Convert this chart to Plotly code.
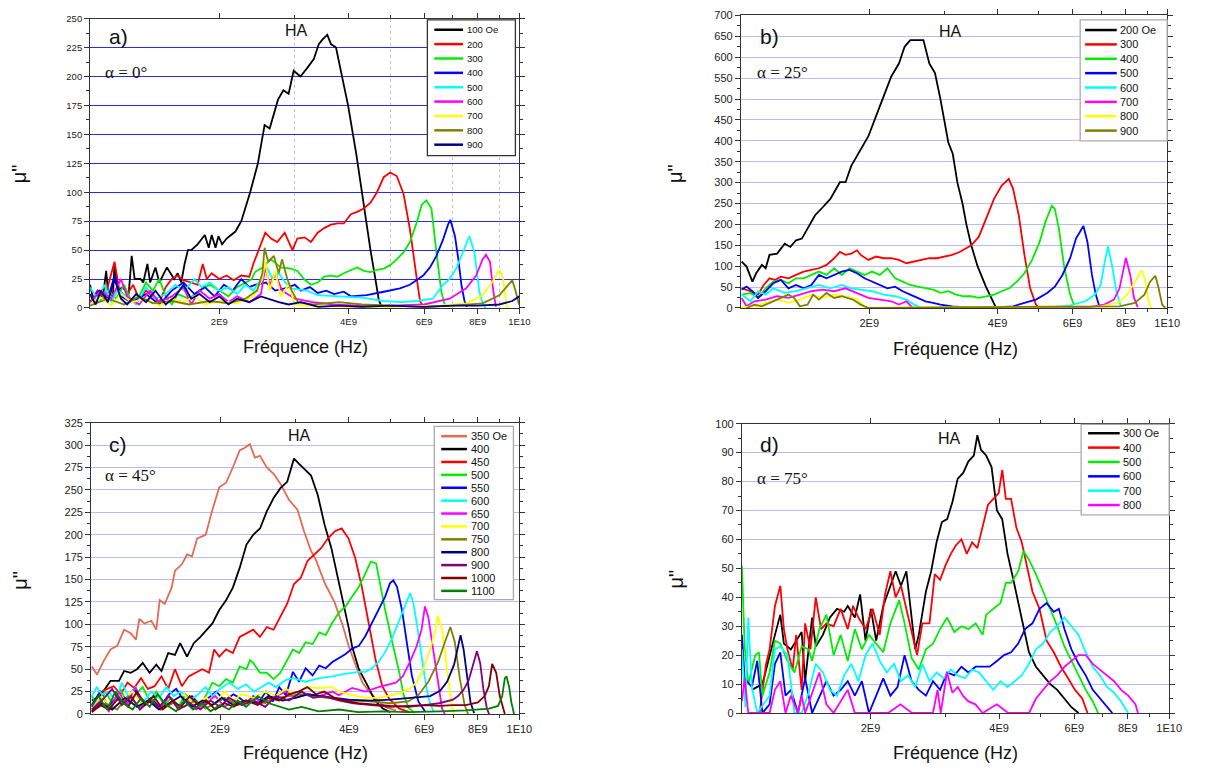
import plotly.graph_objects as go

W, H = 1206, 771
# the page body keeps its default 8px margin, so the figure is drawn 16px smaller
PAD = 8
FIG_W, FIG_H = W - 2 * PAD, H - 2 * PAD

X_TICKVALS = [2e9, 4e9, 6e9, 8e9, 1e10]
X_TICKTEXT = ["2E9", "4E9", "6E9", "8E9", "1E10"]
X_MINOR = [3e9, 5e9, 7e9, 9e9]

# every curve: (frequency in GHz, mu'')

# ---------------- a) alpha = 0 deg ----------------
a_100 = [(1.00, 20), (1.02, 5), (1.05, 12), (1.07, 8), (1.09, 32), (1.10, 15), (1.13, 10), (1.14, 38), (1.16, 15),
         (1.19, 18), (1.23, 12), (1.25, 45), (1.27, 25), (1.31, 25), (1.33, 22), (1.36, 38), (1.38, 22), (1.42, 35),
         (1.45, 22), (1.51, 35), (1.57, 25), (1.60, 30), (1.63, 22), (1.66, 38), (1.69, 50), (1.72, 50), (1.78, 55),
         (1.85, 63), (1.89, 52), (1.92, 63), (1.96, 52), (1.99, 62), (2.03, 55), (2.08, 60), (2.18, 66), (2.25, 75),
         (2.36, 100), (2.46, 125), (2.50, 140), (2.55, 158), (2.62, 155), (2.67, 165), (2.74, 180), (2.82, 188),
         (2.90, 185), (2.98, 205), (3.09, 200), (3.20, 207), (3.32, 215), (3.41, 228), (3.48, 232), (3.57, 236),
         (3.64, 228), (3.74, 225), (3.84, 205), (3.99, 175), (4.17, 133), (4.30, 100), (4.39, 75), (4.50, 50),
         (4.62, 25), (4.70, 8), (4.76, 2)]
a_200 = [(1.00, 5), (1.04, 15), (1.08, 8), (1.11, 25), (1.14, 40), (1.17, 15), (1.21, 10), (1.26, 20), (1.30, 8),
         (1.35, 15), (1.40, 10), (1.45, 5), (1.50, 18), (1.55, 25), (1.60, 28), (1.65, 24), (1.72, 22), (1.78, 20),
         (1.83, 38), (1.87, 25), (1.92, 30), (2.00, 25), (2.08, 28), (2.16, 24), (2.25, 28), (2.35, 27), (2.40, 38),
         (2.47, 50), (2.52, 58), (2.56, 65), (2.64, 60), (2.73, 57), (2.84, 65), (2.96, 50), (3.04, 60), (3.16, 61),
         (3.27, 57), (3.39, 65), (3.51, 69), (3.64, 72), (3.77, 73), (3.90, 73), (4.05, 81), (4.19, 83), (4.34, 86),
         (4.50, 91), (4.66, 100), (4.83, 113), (5.00, 117), (5.18, 114), (5.37, 99), (5.56, 68), (5.77, 25),
         (5.87, 6), (5.97, 1)]
a_300 = [(1.00, 10), (1.05, 5), (1.10, 15), (1.15, 8), (1.20, 20), (1.25, 5), (1.30, 10), (1.35, 22), (1.40, 15),
         (1.45, 25), (1.50, 10), (1.55, 3), (1.60, 12), (1.70, 8), (1.80, 15), (1.90, 20), (2.00, 15), (2.10, 10),
         (2.20, 18), (2.30, 22), (2.38, 25), (2.42, 31), (2.50, 34), (2.64, 42), (2.78, 35), (2.94, 34), (3.04, 32),
         (3.15, 25), (3.27, 20), (3.39, 22), (3.51, 27), (3.64, 28), (3.77, 27), (3.90, 30), (4.05, 33), (4.19, 35),
         (4.34, 32), (4.50, 31), (4.66, 33), (4.83, 34), (5.00, 37), (5.18, 42), (5.37, 48), (5.56, 57), (5.77, 74),
         (5.92, 89), (6.07, 93), (6.24, 86), (6.41, 48), (6.58, 14), (6.70, 3)]
a_400 = [(1.00, 5), (1.05, 15), (1.10, 8), (1.14, 28), (1.18, 10), (1.25, 5), (1.35, 12), (1.45, 3), (1.55, 15),
         (1.65, 22), (1.75, 12), (1.85, 18), (1.95, 10), (2.05, 20), (2.15, 15), (2.25, 25), (2.35, 18), (2.42, 20),
         (2.57, 22), (2.70, 15), (2.84, 17), (3.00, 20), (3.10, 15), (3.25, 18), (3.39, 13), (3.55, 15), (3.70, 12),
         (3.90, 14), (4.05, 10), (4.41, 11), (4.83, 14), (5.27, 17), (5.56, 20), (5.77, 24), (5.97, 28), (6.19, 35),
         (6.41, 45), (6.64, 59), (6.82, 72), (6.91, 76), (7.08, 62), (7.21, 42), (7.33, 20), (7.45, 6), (7.55, 1)]
a_500 = [(1.00, 18), (1.04, 8), (1.08, 20), (1.12, 5), (1.16, 15), (1.22, 10), (1.28, 3), (1.35, 18), (1.42, 8),
         (1.50, 12), (1.58, 20), (1.66, 15), (1.75, 25), (1.82, 18), (1.90, 22), (2.00, 15), (2.10, 18), (2.20, 12),
         (2.30, 20), (2.40, 15), (2.50, 25), (2.58, 35), (2.66, 25), (2.75, 30), (2.85, 22), (2.94, 17), (3.20, 15),
         (3.39, 11), (3.80, 10), (4.30, 9), (4.83, 6), (5.30, 5), (5.77, 6), (6.29, 8), (6.64, 20), (6.88, 25),
         (7.13, 34), (7.39, 48), (7.65, 62), (7.86, 48), (8.07, 14), (8.21, 4), (8.35, 0)]
a_600 = [(1.00, 5), (1.06, 15), (1.12, 8), (1.18, 25), (1.22, 10), (1.30, 3), (1.38, 15), (1.45, 5), (1.55, 10),
         (1.65, 18), (1.72, 3), (1.80, 15), (1.90, 8), (2.00, 12), (2.10, 5), (2.20, 10), (2.35, 5), (2.50, 12),
         (2.56, 35), (2.62, 20), (2.70, 30), (2.80, 15), (3.00, 8), (3.30, 5), (3.70, 3), (4.20, 2), (5.00, 2),
         (6.00, 3), (6.88, 8), (7.52, 17), (7.93, 28), (8.21, 42), (8.36, 46), (8.54, 40), (8.70, 14), (8.82, 1)]
a_700 = [(1.00, 3), (1.05, 10), (1.12, 2), (1.18, 12), (1.25, 5), (1.35, 8), (1.45, 2), (1.55, 8), (1.65, 5),
         (1.75, 10), (1.85, 3), (2.00, 6), (2.20, 4), (2.40, 10), (2.52, 25), (2.56, 40), (2.62, 15), (2.70, 32),
         (2.78, 10), (2.90, 20), (3.00, 3), (3.20, 2), (4.00, 1), (5.00, 1), (6.50, 2), (7.52, 4), (8.21, 11),
         (8.67, 23), (8.98, 33), (9.17, 25), (9.33, 3), (9.40, 0)]
a_800 = [(1.00, 2), (1.10, 8), (1.20, 3), (1.30, 10), (1.40, 4), (1.55, 6), (1.70, 3), (1.90, 6), (2.10, 4),
         (2.30, 8), (2.45, 15), (2.52, 30), (2.55, 52), (2.60, 40), (2.68, 45), (2.75, 30), (2.80, 42), (2.88, 25),
         (2.95, 15), (3.05, 5), (3.30, 3), (3.80, 5), (4.30, 3), (5.00, 2), (6.00, 1), (7.00, 2), (8.21, 4),
         (8.98, 11), (9.46, 20), (9.63, 24), (9.81, 14), (9.98, 3)]
a_900 = [(1.00, 12), (1.03, 3), (1.06, 15), (1.10, 5), (1.14, 25), (1.18, 8), (1.22, 3), (1.28, 12), (1.35, 5),
         (1.42, 15), (1.50, 3), (1.58, 10), (1.65, 20), (1.72, 8), (1.80, 12), (1.90, 5), (2.00, 10), (2.10, 3),
         (2.20, 8), (2.35, 5), (2.50, 10), (2.60, 8), (2.75, 5), (2.90, 3), (3.10, 5), (3.40, 1), (3.80, 2),
         (4.30, 1), (5.00, 2), (6.00, 1), (7.00, 2), (8.00, 2), (8.98, 3), (9.63, 6), (10.0, 10)]
A_LABELS = ["100 Oe", "200", "300", "400", "500", "600", "700", "800", "900"]
A_COLORS = ["#000000", "#ff0000", "#00ee00", "#0000ff", "#00ffff", "#ff00ff", "#ffff00", "#808000", "#000080"]

# ---------------- b) alpha = 25 deg ----------------
b_200 = [(1.004, 111), (1.031, 99), (1.064, 63), (1.086, 83), (1.12, 103), (1.143, 95), (1.167, 127), (1.216, 130),
         (1.267, 154), (1.306, 146), (1.347, 162), (1.39, 166), (1.433, 190), (1.493, 222), (1.556, 241),
         (1.621, 261), (1.707, 301), (1.76, 301), (1.815, 340), (1.872, 364), (1.91, 380), (1.991, 411),
         (2.075, 459), (2.162, 506), (2.253, 554), (2.348, 585), (2.421, 625), (2.496, 641), (2.60, 641),
         (2.68, 641), (2.767, 585), (2.853, 562), (2.94, 498), (3.066, 396), (3.14, 369), (3.22, 300), (3.31, 250),
         (3.38, 200), (3.47, 150), (3.59, 100), (3.76, 50), (3.88, 20), (3.97, 0)]
b_300 = [(1.004, 47), (1.053, 40), (1.097, 32), (1.131, 55), (1.167, 71), (1.203, 67), (1.241, 75), (1.293, 71),
         (1.347, 79), (1.404, 87), (1.463, 91), (1.524, 95), (1.588, 103), (1.655, 119), (1.707, 134), (1.76, 127),
         (1.815, 130), (1.872, 138), (1.91, 127), (1.991, 115), (2.075, 123), (2.162, 119), (2.253, 119),
         (2.348, 115), (2.445, 107), (2.548, 111), (2.655, 115), (2.767, 119), (2.884, 119), (3.005, 123),
         (3.13, 127), (3.26, 134), (3.364, 142), (3.47, 150), (3.614, 170), (3.767, 214), (3.925, 261), (4.09, 293),
         (4.25, 309), (4.35, 285), (4.485, 222), (4.625, 127), (4.77, 47), (4.92, 8), (5.02, 0)]
b_400 = [(1.004, 32), (1.053, 36), (1.097, 24), (1.143, 47), (1.191, 63), (1.241, 67), (1.293, 59), (1.347, 71),
         (1.404, 71), (1.463, 79), (1.524, 87), (1.588, 79), (1.655, 95), (1.724, 79), (1.797, 95), (1.872, 87),
         (1.95, 79), (2.03, 87), (2.117, 79), (2.207, 95), (2.30, 71), (2.396, 63), (2.496, 55), (2.60, 51),
         (2.71, 47), (2.824, 44), (2.94, 36), (3.066, 40), (3.195, 32), (3.33, 28), (3.47, 28), (3.614, 24),
         (3.767, 28), (3.925, 32), (4.09, 40), (4.26, 47), (4.44, 63), (4.625, 83), (4.82, 115), (5.02, 158),
         (5.18, 206), (5.36, 245), (5.45, 237), (5.57, 190), (5.74, 95), (5.92, 32), (6.04, 8)]
b_500 = [(1.004, 44), (1.031, 51), (1.064, 40), (1.097, 24), (1.143, 40), (1.191, 59), (1.241, 67), (1.293, 47),
         (1.347, 55), (1.404, 47), (1.463, 55), (1.524, 79), (1.588, 71), (1.655, 79), (1.724, 87), (1.797, 91),
         (1.872, 83), (1.95, 71), (2.03, 63), (2.117, 55), (2.207, 47), (2.30, 51), (2.396, 40), (2.496, 32),
         (2.60, 24), (2.71, 16), (2.824, 12), (2.94, 8), (3.13, 4), (3.33, 2), (3.54, 0), (4.01, 2), (4.35, 4),
         (4.625, 12), (4.92, 20), (5.23, 36), (5.45, 51), (5.68, 79), (5.92, 119), (6.11, 166), (6.36, 196),
         (6.50, 158), (6.66, 79), (6.80, 32), (6.93, 4)]
b_600 = [(1.004, 32), (1.053, 16), (1.097, 40), (1.143, 32), (1.191, 47), (1.267, 36), (1.347, 40), (1.433, 47),
         (1.524, 55), (1.621, 47), (1.724, 55), (1.815, 47), (1.93, 44), (2.03, 40), (2.162, 32), (2.30, 28),
         (2.445, 20), (2.548, 8), (2.655, 0), (5.34, 2), (5.92, 6), (6.43, 16), (6.77, 32), (6.98, 55), (7.14, 111),
         (7.26, 147), (7.42, 103), (7.60, 40), (7.78, 4)]
b_700 = [(1.004, 24), (1.031, 4), (1.075, 16), (1.143, 20), (1.216, 28), (1.293, 24), (1.375, 32), (1.463, 40),
         (1.556, 44), (1.655, 40), (1.76, 47), (1.872, 36), (1.991, 24), (2.117, 20), (2.253, 16), (2.348, 8),
         (2.445, 16), (2.53, 0), (6.56, 2), (7.12, 8), (7.50, 20), (7.73, 47), (7.89, 95), (8.00, 120), (8.19, 79),
         (8.36, 24), (8.53, 2)]
b_800 = [(1.004, 2), (1.075, 4), (1.143, 12), (1.216, 20), (1.293, 12), (1.375, 20), (1.463, 32), (1.556, 24),
         (1.655, 32), (1.76, 28), (1.872, 20), (1.95, 4), (2.00, 0), (6.98, 4), (7.65, 12), (8.06, 32), (8.40, 63),
         (8.71, 90), (8.86, 71), (9.04, 16), (9.18, 0)]
b_900 = [(1.031, 0), (1.075, 8), (1.12, 4), (1.191, 16), (1.241, 24), (1.293, 32), (1.333, 24), (1.375, 4),
         (1.433, 8), (1.477, 32), (1.524, 20), (1.588, 36), (1.655, 24), (1.724, 28), (1.83, 20), (1.91, 8),
         (1.99, 0), (7.73, 4), (8.40, 12), (8.84, 32), (9.12, 63), (9.38, 77), (9.55, 47), (9.73, 8), (9.90, 0)]
B_LABELS = ["200 Oe", "300", "400", "500", "600", "700", "800", "900"]
B_COLORS = ["#000000", "#ff0000", "#00ee00", "#0000ff", "#00ffff", "#ff00ff", "#ffff00", "#808000"]

# ---------------- c) alpha = 45 deg ----------------
c_350 = [(1.004, 53), (1.032, 44), (1.07, 59), (1.11, 72), (1.151, 76), (1.194, 94), (1.238, 90), (1.273, 83),
         (1.296, 106), (1.332, 101), (1.382, 104), (1.42, 94), (1.446, 127), (1.486, 123), (1.542, 141),
         (1.57, 160), (1.629, 167), (1.675, 178), (1.721, 176), (1.769, 196), (1.852, 200), (1.92, 228),
         (1.992, 253), (2.066, 258), (2.143, 275), (2.223, 294), (2.285, 297), (2.348, 301), (2.413, 286),
         (2.48, 288), (2.572, 275), (2.668, 268), (2.767, 257), (2.897, 239), (3.033, 228), (3.146, 203),
         (3.263, 182), (3.35, 172), (3.52, 145), (3.70, 125), (3.86, 100), (4.00, 75), (4.18, 50), (4.30, 35),
         (4.46, 25), (4.69, 14), (4.90, 7), (5.15, 4)]
c_400 = [(1.004, 15), (1.05, 20), (1.11, 37), (1.162, 37), (1.194, 48), (1.238, 46), (1.28, 50), (1.32, 57),
         (1.37, 46), (1.42, 55), (1.46, 48), (1.514, 68), (1.57, 66), (1.614, 79), (1.675, 64), (1.737, 79),
         (1.80, 86), (1.868, 94), (1.92, 101), (1.992, 116), (2.066, 127), (2.143, 141), (2.223, 163), (2.306, 189),
         (2.391, 200), (2.48, 207), (2.572, 226), (2.668, 241), (2.767, 252), (2.87, 259), (2.977, 285),
         (3.06, 279), (3.146, 273), (3.263, 266), (3.384, 244), (3.51, 211), (3.64, 185), (3.78, 150), (3.90, 120),
         (4.00, 95), (4.07, 75), (4.22, 50), (4.44, 30), (4.60, 15), (4.80, 6), (5.00, 2)]
c_450 = [(1.004, 9), (1.05, 24), (1.09, 28), (1.13, 31), (1.172, 22), (1.216, 35), (1.261, 29), (1.308, 40),
         (1.357, 28), (1.407, 31), (1.46, 42), (1.514, 28), (1.57, 50), (1.629, 31), (1.69, 42), (1.753, 46),
         (1.818, 50), (1.886, 46), (1.938, 72), (1.992, 64), (2.066, 72), (2.143, 68), (2.223, 86), (2.306, 90),
         (2.391, 94), (2.48, 86), (2.572, 97), (2.668, 94), (2.767, 108), (2.87, 123), (2.977, 145), (3.088, 152),
         (3.203, 171), (3.322, 178), (3.444, 185), (3.575, 196), (3.71, 204), (3.846, 207), (3.99, 196),
         (4.138, 174), (4.291, 141), (4.45, 101), (4.614, 61), (4.786, 31), (4.966, 17), (5.246, 6), (5.54, 2)]
c_500 = [(1.004, 20), (1.04, 8), (1.08, 25), (1.12, 12), (1.17, 28), (1.22, 10), (1.27, 22), (1.32, 30), (1.37, 15),
         (1.42, 25), (1.48, 10), (1.54, 18), (1.60, 8), (1.66, 22), (1.72, 15), (1.80, 10), (1.852, 20), (1.92, 35),
         (1.992, 31), (2.066, 39), (2.143, 35), (2.223, 53), (2.306, 50), (2.35, 60), (2.391, 57), (2.48, 46),
         (2.572, 46), (2.668, 39), (2.767, 46), (2.87, 60), (2.96, 72), (3.06, 68), (3.17, 80), (3.29, 78),
         (3.41, 91), (3.53, 88), (3.66, 102), (3.79, 113), (3.93, 120), (4.07, 131), (4.22, 142), (4.37, 157),
         (4.50, 170), (4.63, 168), (4.74, 142), (4.86, 116), (5.05, 80), (5.24, 47), (5.37, 21), (5.51, 7), (5.70, 1)]
c_550 = [(1.004, 10), (1.05, 25), (1.10, 8), (1.15, 20), (1.20, 12), (1.26, 28), (1.32, 10), (1.38, 18), (1.45, 8),
         (1.52, 22), (1.58, 28), (1.65, 15), (1.72, 20), (1.80, 10), (1.88, 18), (1.96, 25), (2.05, 15), (2.15, 22),
         (2.22, 18), (2.30, 12), (2.39, 20), (2.48, 15), (2.56, 25), (2.66, 14), (2.75, 30), (2.85, 21), (2.96, 47),
         (3.06, 36), (3.17, 51), (3.29, 43), (3.41, 54), (3.53, 51), (3.66, 58), (3.79, 62), (3.93, 67), (4.07, 73),
         (4.22, 76), (4.37, 87), (4.53, 102), (4.69, 116), (4.86, 131), (4.99, 146), (5.08, 149), (5.18, 142),
         (5.32, 116), (5.46, 80), (5.61, 43), (5.81, 14), (6.02, 3)]
c_600 = [(1.004, 20), (1.03, 30), (1.06, 22), (1.10, 25), (1.14, 15), (1.18, 35), (1.22, 20), (1.27, 30), (1.32, 12),
         (1.38, 25), (1.44, 18), (1.50, 30), (1.56, 20), (1.62, 25), (1.70, 15), (1.78, 22), (1.85, 30), (1.92, 20),
         (2.00, 28), (2.10, 35), (2.20, 28), (2.30, 33), (2.40, 25), (2.50, 30), (2.60, 35), (2.70, 30), (2.85, 38),
         (2.96, 40), (3.17, 36), (3.41, 40), (3.66, 42), (3.93, 45), (4.22, 47), (4.37, 47), (4.53, 51), (4.69, 58),
         (4.86, 69), (5.04, 84), (5.22, 102), (5.41, 120), (5.56, 135), (5.65, 125), (5.81, 90), (5.97, 50),
         (6.13, 18), (6.30, 3)]
c_650 = [(1.004, 5), (1.05, 15), (1.10, 3), (1.16, 25), (1.21, 10), (1.27, 30), (1.32, 8), (1.38, 15), (1.45, 5),
         (1.52, 20), (1.60, 8), (1.68, 15), (1.76, 5), (1.85, 12), (1.95, 20), (2.05, 8), (2.15, 15), (2.25, 10),
         (2.40, 18), (2.55, 12), (2.70, 20), (2.85, 25), (3.00, 18), (3.20, 22), (3.41, 20), (3.66, 25), (3.79, 21),
         (4.07, 29), (4.37, 25), (4.69, 30), (4.95, 33), (5.15, 35), (5.34, 42), (5.54, 57), (5.75, 75), (5.91, 94),
         (6.02, 120), (6.13, 108), (6.31, 68), (6.49, 28), (6.60, 6), (6.70, 0)]
c_700 = [(1.004, 8), (1.06, 20), (1.12, 5), (1.18, 15), (1.25, 25), (1.32, 10), (1.40, 18), (1.48, 5), (1.56, 15),
         (1.65, 22), (1.75, 10), (1.85, 18), (1.95, 12), (2.05, 25), (2.15, 15), (2.25, 22), (2.40, 18), (2.55, 25),
         (2.70, 20), (2.85, 28), (3.00, 22), (3.17, 30), (3.41, 29), (3.66, 30), (3.79, 25), (4.07, 21), (4.37, 18),
         (4.69, 18), (5.04, 21), (5.30, 24), (5.54, 28), (5.75, 35), (5.97, 50), (6.19, 72), (6.37, 94), (6.45, 110),
         (6.60, 94), (6.78, 50), (6.97, 6), (7.05, 0)]
c_750 = [(1.004, 3), (1.08, 12), (1.15, 5), (1.22, 20), (1.30, 8), (1.38, 15), (1.46, 5), (1.55, 12), (1.65, 8),
         (1.75, 15), (1.85, 6), (1.95, 12), (2.05, 18), (2.20, 10), (2.35, 15), (2.50, 12), (2.70, 18), (2.90, 20),
         (3.10, 22), (3.30, 20), (3.60, 18), (4.00, 15), (4.50, 14), (5.00, 12), (5.50, 14), (5.81, 21), (6.13, 36),
         (6.46, 58), (6.70, 80), (6.90, 97), (7.07, 80), (7.26, 40), (7.45, 10), (7.59, 0)]
c_800 = [(1.004, 3), (1.06, 12), (1.12, 5), (1.20, 18), (1.28, 8), (1.36, 15), (1.44, 5), (1.52, 12), (1.62, 20),
         (1.72, 8), (1.82, 15), (1.92, 10), (2.02, 18), (2.15, 10), (2.30, 15), (2.45, 12), (2.60, 20), (2.80, 15),
         (3.00, 18), (3.20, 22), (3.40, 20), (3.70, 18), (4.00, 16), (4.50, 15), (5.00, 16), (5.50, 18), (6.19, 20),
         (6.53, 26), (6.78, 36), (7.04, 55), (7.22, 79), (7.29, 88), (7.41, 72), (7.55, 39), (7.69, 13), (7.84, 1)]
c_900 = [(1.004, 5), (1.06, 15), (1.12, 28), (1.18, 10), (1.24, 20), (1.30, 5), (1.37, 15), (1.44, 8), (1.52, 20),
         (1.60, 5), (1.70, 12), (1.80, 5), (1.90, 15), (2.00, 8), (2.10, 18), (2.25, 10), (2.40, 15), (2.55, 8),
         (2.70, 20), (2.90, 15), (3.10, 25), (3.30, 18), (3.50, 20), (3.80, 15), (4.10, 12), (4.50, 10), (5.00, 8),
         (5.50, 9), (6.00, 10), (6.50, 12), (7.00, 16), (7.19, 20), (7.41, 27), (7.62, 38), (7.85, 59), (7.96, 70),
         (8.10, 57), (8.24, 28), (8.40, 6), (8.50, 0)]
c_1000 = [(1.004, 2), (1.05, 10), (1.10, 5), (1.16, 18), (1.22, 8), (1.28, 25), (1.34, 10), (1.40, 20), (1.47, 5),
          (1.55, 15), (1.62, 8), (1.70, 20), (1.78, 10), (1.86, 15), (1.95, 5), (2.05, 12), (2.15, 8), (2.30, 15),
          (2.45, 10), (2.60, 18), (2.75, 15), (2.90, 22), (3.05, 25), (3.20, 30), (3.35, 22), (3.50, 25), (3.70, 18),
          (3.90, 15), (4.20, 12), (4.60, 10), (5.00, 9), (5.50, 8), (6.00, 10), (6.50, 9), (7.00, 10), (7.50, 10),
          (8.00, 13), (8.30, 20), (8.49, 31), (8.64, 56), (8.83, 46), (9.00, 20), (9.17, 4), (9.25, 0)]
c_1100 = [(1.004, 8), (1.04, 20), (1.09, 5), (1.14, 25), (1.19, 12), (1.25, 5), (1.31, 18), (1.37, 8), (1.43, 22),
          (1.50, 10), (1.58, 3), (1.65, 15), (1.73, 5), (1.82, 12), (1.90, 3), (2.00, 10), (2.10, 5), (2.20, 15),
          (2.30, 8), (2.45, 20), (2.60, 12), (2.75, 8), (2.90, 5), (3.10, 8), (3.40, 3), (3.80, 5), (4.20, 2),
          (4.80, 3), (5.50, 2), (6.50, 3), (7.50, 4), (8.50, 6), (8.92, 9), (9.12, 20), (9.25, 40), (9.33, 42),
          (9.46, 31), (9.58, 13), (9.72, 0)]
C_LABELS = ["350 Oe", "400", "450", "500", "550", "600", "650", "700", "750", "800", "900", "1000", "1100"]
C_COLORS = ["#e66a52", "#000000", "#ff0000", "#00ee00", "#0000ff", "#00ffff", "#ff00ff", "#ffff00", "#808000",
            "#000080", "#800080", "#800000", "#008000"]

# ---------------- d) alpha = 75 deg ----------------
d_300 = [(1.055, 8), (1.117, 10), (1.195, 27), (1.23, 34), (1.254, 24), (1.302, 22), (1.38, 28), (1.406, 11),
         (1.46, 33), (1.489, 23), (1.547, 27), (1.607, 33), (1.67, 36), (1.735, 35), (1.769, 37), (1.838, 33),
         (1.891, 41), (1.947, 25), (2.004, 36), (2.062, 25), (2.142, 37), (2.226, 44), (2.29, 49), (2.357, 44),
         (2.426, 49), (2.496, 33), (2.545, 22), (2.594, 27), (2.696, 42), (2.773, 49), (2.855, 59), (2.938, 66),
         (3.023, 67), (3.111, 73), (3.20, 81), (3.295, 83), (3.39, 87), (3.49, 89), (3.557, 96), (3.626, 91),
         (3.73, 89), (3.84, 85), (3.953, 70), (4.066, 67), (4.185, 55), (4.305, 47), (4.433, 38), (4.56, 29),
         (4.697, 21), (4.877, 16), (5.07, 13), (5.267, 10), (5.47, 8), (5.686, 5), (5.905, 2), (6.137, 0)]
d_400 = [(1.10, 0), (1.139, 17), (1.161, 22), (1.195, 37), (1.23, 44), (1.254, 29), (1.278, 22), (1.315, 15),
         (1.34, 27), (1.38, 8), (1.406, 31), (1.447, 22), (1.489, 40), (1.532, 29), (1.577, 31), (1.639, 30),
         (1.703, 36), (1.769, 29), (1.82, 37), (1.874, 33), (1.947, 29), (2.023, 36), (2.101, 27), (2.163, 41),
         (2.226, 49), (2.29, 40), (2.357, 44), (2.426, 36), (2.496, 27), (2.57, 20), (2.645, 31), (2.748, 31),
         (2.828, 48), (2.91, 46), (2.995, 51), (3.083, 55), (3.17, 58), (3.265, 60), (3.36, 55), (3.458, 59),
         (3.557, 57), (3.66, 64), (3.767, 72), (3.877, 74), (3.99, 76), (4.068, 84), (4.147, 74), (4.266, 74),
         (4.39, 64), (4.518, 59), (4.65, 50), (4.786, 42), (4.972, 36), (5.166, 25), (5.37, 21), (5.58, 16),
         (5.80, 12), (6.02, 8), (6.26, 5), (6.44, 0)]
d_500 = [(1.0, 51), (1.015, 23), (1.035, 10), (1.075, 20), (1.096, 21), (1.117, 6), (1.161, 14), (1.195, 25),
         (1.23, 24), (1.278, 18), (1.328, 14), (1.38, 23), (1.433, 22), (1.46, 18), (1.518, 29), (1.577, 34),
         (1.639, 20), (1.703, 27), (1.769, 18), (1.838, 29), (1.909, 22), (1.984, 27), (2.062, 24), (2.142, 21),
         (2.226, 31), (2.334, 39), (2.403, 31), (2.496, 19), (2.594, 15), (2.696, 22), (2.80, 24), (2.91, 29),
         (3.023, 33), (3.141, 28), (3.265, 30), (3.39, 29), (3.524, 31), (3.66, 27), (3.73, 34), (3.877, 36),
         (4.03, 38), (4.147, 45), (4.266, 45), (4.433, 49), (4.56, 56), (4.697, 53), (4.877, 48), (5.07, 42),
         (5.267, 36), (5.47, 30), (5.686, 23), (5.905, 18), (6.137, 13), (6.378, 8), (6.625, 4), (6.82, 0)]
d_600 = [(1.0, 27), (1.015, 12), (1.055, 9), (1.086, 18), (1.117, 0), (1.161, 3), (1.195, 17), (1.23, 21),
         (1.265, 6), (1.302, 8), (1.353, 0), (1.406, 12), (1.46, 0), (1.577, 11), (1.639, 6), (1.703, 8),
         (1.769, 11), (1.838, 6), (1.909, 11), (1.984, 0), (2.062, 6), (2.142, 12), (2.226, 6), (2.313, 9),
         (2.403, 20), (2.496, 11), (2.594, 8), (2.696, 6), (2.80, 11), (2.91, 8), (3.023, 14), (3.141, 13),
         (3.265, 16), (3.39, 14), (3.524, 16), (3.66, 16), (3.80, 16), (3.953, 18), (4.107, 20), (4.266, 21),
         (4.433, 24), (4.60, 29), (4.786, 31), (4.972, 36), (5.166, 38), (5.37, 35), (5.52, 36), (5.686, 29),
         (5.905, 22), (6.137, 17), (6.378, 13), (6.625, 8), (6.88, 5), (7.154, 2), (7.36, 0)]
d_700 = [(1.0, 22), (1.019, 2), (1.035, 33), (1.055, 9), (1.086, 0), (1.161, 6), (1.195, 22), (1.23, 23),
         (1.278, 20), (1.328, 0), (1.38, 0), (1.433, 7), (1.489, 17), (1.547, 14), (1.607, 8), (1.67, 6),
         (1.735, 13), (1.803, 17), (1.874, 11), (1.947, 20), (2.023, 24), (2.101, 18), (2.183, 14), (2.27, 17),
         (2.357, 11), (2.449, 13), (2.545, 9), (2.645, 17), (2.748, 11), (2.855, 14), (2.965, 12), (3.083, 15),
         (3.20, 13), (3.327, 12), (3.458, 15), (3.59, 14), (3.73, 11), (3.877, 8), (4.03, 11), (4.185, 9),
         (4.35, 11), (4.518, 13), (4.697, 17), (4.877, 22), (5.07, 24), (5.267, 28), (5.47, 30), (5.686, 33),
         (5.905, 30), (6.137, 27), (6.378, 21), (6.625, 16), (6.88, 13), (7.154, 9), (7.43, 7), (7.72, 4), (8.02, 0)]
d_800 = [(1.0, 4), (1.015, 12), (1.035, 0), (1.161, 0), (1.195, 8), (1.23, 11), (1.265, 0), (1.302, 6), (1.353, 0),
         (1.38, 6), (1.406, 0), (1.518, 14), (1.577, 3), (1.639, 0), (1.769, 8), (1.838, 0), (2.20, 0), (2.35, 3),
         (2.50, 0), (2.80, 0), (2.87, 8), (2.92, 0), (3.02, 14), (3.11, 7), (3.20, 9), (3.29, 6), (3.39, 4),
         (3.52, 3), (3.66, 0), (3.95, 3), (4.20, 0), (4.70, 0), (4.88, 5), (5.07, 8), (5.27, 11), (5.47, 13),
         (5.69, 16), (5.905, 18), (6.137, 20), (6.378, 20), (6.625, 17), (6.88, 15), (7.154, 13), (7.43, 11),
         (7.72, 8), (8.02, 6), (8.34, 3), (8.45, 0)]
D_LABELS = ["300 Oe", "400", "500", "600", "700", "800"]
D_COLORS = ["#000000", "#ff0000", "#00ee00", "#0000ff", "#00ffff", "#ff00ff"]

SANS = "Liberation Sans, Arial, sans-serif"
SERIF = "Liberation Serif, Times New Roman, serif"


def px(x):
    # page pixel -> paper fraction of the (smaller) figure
    return (x - PAD) / FIG_W


def py(y):
    return 1 - (y - PAD) / FIG_H


panels = [
    dict(curves=[a_100, a_200, a_300, a_400, a_500, a_600, a_700, a_800, a_900], labels=A_LABELS, colors=A_COLORS,
         ymax=250, dtick=25, box=(91, 12.7, 525, 306.7), grid="#2b2be8", gridw=1.3, fs=9.5,
         tag="a)", tag_xy=(120, 31), ha_xy=(300, 25), angle="α = 0°", angle_xy=(127, 67),
         xt_xy=(309, 346), yt_xy=(20, 170),
         leg=dict(box=(432, 14, 521, 152), y0=24, step=14.6, line=(439, 468), tx=470, size=9.5, border="#333")),
    dict(curves=[b_200, b_300, b_400, b_500, b_600, b_700, b_800, b_900], labels=B_LABELS, colors=B_COLORS,
         ymax=700, dtick=50, box=(749, 9.5, 1180, 306.7), grid="#bcbcf2", gridw=1, fs=11,
         tag="b)", tag_xy=(778, 31), ha_xy=(961, 26), angle="α = 25°", angle_xy=(791, 67),
         xt_xy=(966, 348), yt_xy=(683, 170),
         leg=dict(box=(1092, 14, 1180, 137), y0=24.3, step=14.6, line=(1097, 1129), tx=1130, size=11, border="#aaa")),
    dict(curves=[c_350, c_400, c_450, c_500, c_550, c_600, c_650, c_700, c_750, c_800, c_900, c_1000, c_1100],
         labels=C_LABELS, colors=C_COLORS,
         ymax=325, dtick=25, box=(92, 423.3, 525, 719.3), grid="#bcbcf2", gridw=1, fs=11,
         tag="c)", tag_xy=(119, 445), ha_xy=(303, 436), angle="α = 45°", angle_xy=(132, 477),
         xt_xy=(309, 759), yt_xy=(20, 583),
         leg=dict(box=(439, 427, 519, 603), y0=437, step=13.1, line=(446, 472), tx=474, size=11, border="#aaa")),
    dict(curves=[d_300, d_400, d_500, d_600, d_700, d_800], labels=D_LABELS, colors=D_COLORS,
         ymax=100, dtick=10, box=(750, 424.3, 1182, 718.3), grid="#bcbcf2", gridw=1, fs=11,
         tag="d)", tag_xy=(778, 445), ha_xy=(960, 439), angle="α = 75°", angle_xy=(791, 480),
         xt_xy=(966, 759), yt_xy=(683, 582),
         leg=dict(box=(1093, 425, 1182, 517), y0=434, step=14.6, line=(1100, 1132), tx=1133, size=11, border="#aaa")),
]

fig = go.Figure()
annotations = []
shapes = []


def note(text, xy, size, family=SANS, xanchor="center", yanchor="middle", **kw):
    annotations.append(dict(text=text, x=px(xy[0]), y=py(xy[1]), xref="paper", yref="paper", showarrow=False,
                            xanchor=xanchor, yanchor=yanchor,
                            font=dict(family=family, size=size, color="#111"), **kw))


for i, p in enumerate(panels, start=1):
    sx = "" if i == 1 else str(i)
    left, top, right, bottom = p["box"]

    for pts, name, color in zip(p["curves"], p["labels"], p["colors"]):
        fig.add_trace(go.Scatter(
            x=[f * 1e9 for f, _ in pts], y=[m for _, m in pts], mode="lines", name=name,
            line=dict(color=color, width=1.8), showlegend=False, xaxis="x" + sx, yaxis="y" + sx,
        ))

    tickfont = dict(family=SANS, size=p["fs"], color="#222")
    fig.update_layout(**{
        "xaxis" + sx: dict(
            domain=[px(left), px(right)], anchor="y" + sx, type="log", range=[9, 10],
            tickmode="array", tickvals=X_TICKVALS, ticktext=X_TICKTEXT,
            ticks="outside", ticklen=5, tickcolor="#333", showline=True, linecolor="#333", linewidth=1,
            mirror="allticks", showgrid=False, zeroline=False, tickfont=tickfont,
            minor=dict(tickmode="array", tickvals=X_MINOR, ticks="outside", ticklen=3, tickcolor="#333",
                       showgrid=(i == 1), gridcolor="#c4c4c4", griddash="dot", gridwidth=1),
        ),
        "yaxis" + sx: dict(
            domain=[py(bottom), py(top)], anchor="x" + sx, range=[0, p["ymax"]],
            tickmode="linear", tick0=0, dtick=p["dtick"],
            ticks="outside", ticklen=5, tickcolor="#333", showline=True, linecolor="#333", linewidth=1,
            mirror="allticks", showgrid=True, gridcolor=p["grid"], gridwidth=p["gridw"], zeroline=False,
            tickfont=tickfont,
            minor=dict(tick0=0, dtick=p["dtick"] / 2, ticks="outside", ticklen=3, tickcolor="#333", showgrid=False),
        ),
    })

    # panel texts
    note(p["tag"], p["tag_xy"], 21)
    note("HA", p["ha_xy"], 16)
    note(p["angle"], p["angle_xy"], 17, family=SERIF)
    note("Fréquence (Hz)", p["xt_xy"], 18)
    note('μ"', p["yt_xy"], 20, textangle=-90)

    # legend box drawn by hand so the rows stay as tight as in the original
    lg = p["leg"]
    bx0, by0, bx1, by1 = lg["box"]
    shapes.append(dict(type="rect", xref="paper", yref="paper", x0=px(bx0), x1=px(bx1), y0=py(by1), y1=py(by0),
                       fillcolor="white", line=dict(color=lg["border"], width=1.3), layer="above"))
    for k, (name, color) in enumerate(zip(p["labels"], p["colors"])):
        yy = lg["y0"] + k * lg["step"]
        shapes.append(dict(type="line", xref="paper", yref="paper", x0=px(lg["line"][0]), x1=px(lg["line"][1]),
                           y0=py(yy), y1=py(yy), line=dict(color=color, width=2.5), layer="above"))
        note(name, (lg["tx"], yy), lg["size"], xanchor="left")

fig.update_layout(
    width=FIG_W, height=FIG_H, margin=dict(l=0, r=0, t=0, b=0),
    plot_bgcolor="white", paper_bgcolor="white",
    annotations=annotations, shapes=shapes, showlegend=False,
)

fig.write_html("out.html")
